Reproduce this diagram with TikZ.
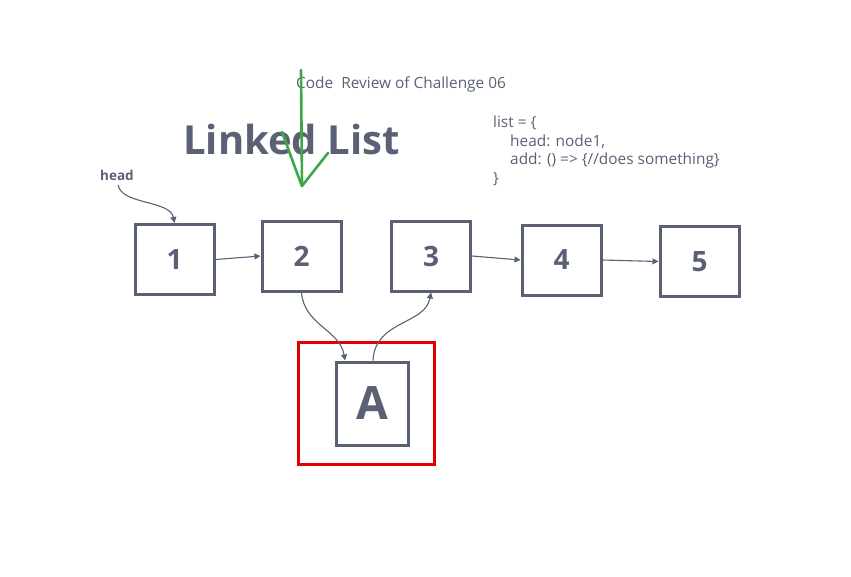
\documentclass[tikz,border=0pt]{standalone}
\usepackage{fontspec}
\setmainfont{Open Sans}
\usetikzlibrary{arrows.meta}
\definecolor{ink}{HTML}{5A6175}
\definecolor{redbox}{HTML}{E00000}
\definecolor{greenpen}{HTML}{3DA847}
\tikzset{
  lnode/.style={draw=ink, line width=3pt, minimum width=79pt, minimum height=70pt, inner sep=0pt, text=ink, font=\fontsize{28}{30}\selectfont\bfseries},
  link/.style={draw=ink, line width=1.1pt, -{Triangle[length=6pt,width=6pt]}},
  codetxt/.style={text=ink, font=\fontsize{15.4}{18.5}\selectfont, anchor=north west, align=left, inner sep=0pt}
}
\begin{document}
\begin{tikzpicture}[x=1pt,y=-1pt]
\useasboundingbox (0,0) rectangle (851,576);
% title texts
\node[text=ink, font=\fontsize{15.4}{17}\selectfont, anchor=west, inner sep=0pt] (title) at (296,84) {Code\ \ Review of Challenge 06};
\node[text=ink, font=\fontsize{40}{42}\selectfont\bfseries, anchor=west, inner sep=0pt] (ll) at (183,139) {Linked List};
\node[codetxt] (code) at (493,116) {list = \{\\\hspace*{17pt}head: node1,\\\hspace*{17pt}add: () => \{//does something\}\\\}};
% nodes
\node[lnode] (n1) at (174.5,259.5) {1};
\node[lnode] (n2) at (301.5,256) {2};
\node[lnode] (n3) at (431,256) {3};
\node[lnode] (n4) at (561.5,260) {4};
\node[lnode] (n5) at (699.5,261.5) {5};
\node[draw=redbox, line width=3pt, minimum width=136pt, minimum height=122pt, inner sep=0pt] (red) at (366,403) {};
\node[lnode, minimum width=72pt, minimum height=83pt, font=\fontsize{46}{48}\selectfont\bfseries] (a) at (372,403.5) {A};
% head label
\node[text=ink, font=\fontsize{13.5}{15}\selectfont\bfseries, anchor=west, inner sep=0pt] (head) at (100,175) {head};
\coordinate (hs) at (118,185);
\draw[link] (hs) .. controls (122,205) and (170,200) .. (n1.north);
% links
\draw[link] (n1.east) -- (n2.west);
\draw[link] (n3.east) -- (n4.west);
\draw[link] (n4.east) -- (n5.west);
\draw[link] (n2.south) .. controls (304,325) and (340,330) .. ([xshift=-27pt]a.north);
\draw[link] ([xshift=1pt]a.north) .. controls (375,320) and (425,325) .. (n3.south);
% green arrow
\coordinate (g1) at (301,70);
\coordinate (g2) at (302,186);
\coordinate (g3) at (282,132);
\coordinate (g4) at (328,153);
\draw[greenpen, line width=2.6pt, line cap=round, line join=round] (g1) -- (g2);
\draw[greenpen, line width=2.6pt, line cap=round, line join=round] (g3) .. controls (288,148) and (295,168) .. (g2) -- (g4);
\end{tikzpicture}
\end{document}
